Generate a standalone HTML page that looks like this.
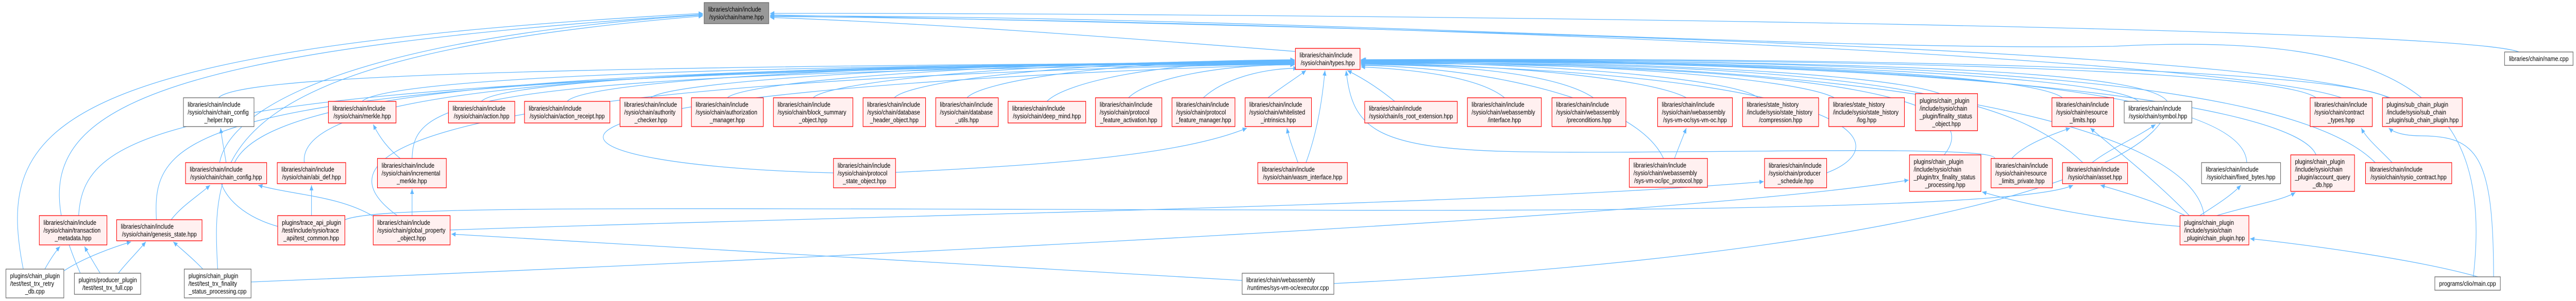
<!DOCTYPE html>
<html><head><meta charset="utf-8">
<style>
html,body{margin:0;padding:0;background:#fff;overflow:hidden;width:100%;height:100%;}
svg{display:block;width:100vw;height:100vh;}
.e{fill:none;stroke:#63b8ff;stroke-width:1.3;}
.r{fill:#fff0f0;stroke:#ff0000;stroke-width:1.3;}
.w{fill:#ffffff;stroke:#666666;stroke-width:1.3;}
.g{fill:#999999;stroke:#666666;stroke-width:1.3;}
text{font-family:"Liberation Sans",Arial,sans-serif;font-size:13px;fill:#000;}
.m{text-anchor:middle;}
</style></head>
<body>
<svg viewBox="0 0 6095 585" preserveAspectRatio="none" xmlns="http://www.w3.org/2000/svg">
<defs>
<marker id="a" markerUnits="userSpaceOnUse" markerWidth="11" markerHeight="9" refX="10" refY="4.5" orient="auto">
<path d="M0,0 L10,4.5 L0,9 z" fill="#63b8ff"/>
</marker>
</defs>
<g marker-end="url(#a)">
<path class="e" d="M517,190 C560,150 1200,128 3063,122"/>
<path class="e" d="M857,197 C900,160 1500,126 3063,123"/>
<path class="e" d="M1139,197 C1180,160 1800,124 3063,121"/>
<path class="e" d="M1342,197 C1380,160 2000,123 3063,120"/>
<path class="e" d="M1540,190 C1580,160 2200,122 3063,119"/>
<path class="e" d="M1721,190 C1760,160 2300,121 3063,118"/>
<path class="e" d="M1924,190 C1960,160 2400,120 3063,117"/>
<path class="e" d="M2116,190 C2150,160 2500,120 3063,116"/>
<path class="e" d="M2288,190 C2320,160 2600,119 3063,117"/>
<path class="e" d="M2477,197 C2520,160 2750,118 3063,120"/>
<path class="e" d="M2670,190 C2720,150 2900,125 3063,126"/>
<path class="e" d="M2847,190 C2900,150 3000,132 3070,133"/>
<path class="e" d="M3000,190 C3030,170 3070,150 3090,137"/>
<path class="e" d="M555,316 C640,170 1400,128 3063,124"/>
<path class="e" d="M720,316 C700,170 1500,126 3063,125"/>
<path class="e" d="M975,308 C980,200 1050,140 3063,125"/>
<path class="e" d="M370,427 C360,250 420,140 3063,122"/>
<path class="e" d="M186,419 C200,250 380,145 3063,121"/>
<path class="e" d="M940,419 C790,330 740,160 3063,124"/>
<path class="e" d="M1972,336 C1200,320 1000,180 3063,125"/>
<path class="e" d="M3090,316 C3120,250 3130,180 3135,137"/>
<path class="e" d="M3071,316 C3060,290 3050,270 3045,249"/>
<path class="e" d="M2119,335 C2500,320 2800,300 2950,249"/>
<path class="e" d="M3300,197 C3260,170 3220,150 3188,137"/>
<path class="e" d="M3560,190 C3500,150 3350,135 3220,130"/>
<path class="e" d="M3770,190 C3700,150 3500,125 3220,126"/>
<path class="e" d="M3990,190 C3900,150 3500,122 3220,124"/>
<path class="e" d="M4160,190 C4100,150 3600,120 3220,122"/>
<path class="e" d="M4340,190 C4250,150 3700,118 3220,121"/>
<path class="e" d="M4590,182 C4450,140 3800,117 3220,120"/>
<path class="e" d="M4880,190 C4800,140 4000,115 3220,119"/>
<path class="e" d="M5060,197 C5000,150 4200,114 3220,118"/>
<path class="e" d="M5480,190 C5400,140 4500,112 3220,117"/>
<path class="e" d="M5650,190 C5550,140 4600,110 3220,116"/>
<path class="e" d="M3936,308 C3870,190 3500,130 3220,127"/>
<path class="e" d="M5620,316 C5420,150 4500,112 3220,118"/>
<path class="e" d="M5480,301 C5430,200 4600,115 3220,119"/>
<path class="e" d="M5316,316 C5310,180 4600,116 3220,120"/>
<path class="e" d="M5215,419 C5190,250 4500,117 3220,121"/>
<path class="e" d="M4928,316 C4780,200 4500,118 3220,122"/>
<path class="e" d="M4720,308 C4720,280 4000,300 3600,295 C3250,290 3200,250 3185,137"/>
<path class="e" d="M4600,301 C4700,200 4400,125 3220,123"/>
<path class="e" d="M4322,336 C4500,280 4400,140 3220,124"/>
<path class="e" d="M3156,551 C4400,500 5120,350 5130,200 C5100,140 4500,118 3222,116"/>
<path class="e" d="M3065,100 C2600,70 2200,45 1822,34"/>
<path class="e" d="M5960,101 C5800,50 3000,25 1822,26"/>
<path class="e" d="M5655,190 C5400,110 4000,65 1822,29"/>
<path class="e" d="M5852,538 C5900,200 5700,60 5000,90 C4300,100 3000,30 1822,31"/>
<path class="e" d="M5540,190 C5300,120 3500,45 1822,32"/>
<path class="e" d="M55,523 C-10,250 100,95 1663,26"/>
<path class="e" d="M190,531 C40,250 150,110 1663,28"/>
<path class="e" d="M657,440 C400,380 380,100 1663,29"/>
<path class="e" d="M515,523 C500,300 500,110 1663,31"/>
<path class="e" d="M535,316 C530,290 525,270 522,249"/>
<path class="e" d="M947,308 C920,290 900,270 883,242"/>
<path class="e" d="M975,419 L975,367"/>
<path class="e" d="M885,421 C800,380 700,380 611,360"/>
<path class="e" d="M405,427 C430,400 470,380 497,360"/>
<path class="e" d="M737,419 L737,360"/>
<path class="e" d="M106,523 C115,510 130,490 142,479"/>
<path class="e" d="M152,526 C200,500 270,480 310,470"/>
<path class="e" d="M237,531 C225,515 210,495 200,479"/>
<path class="e" d="M280,531 C300,510 325,490 345,470"/>
<path class="e" d="M480,523 C460,505 430,485 410,470"/>
<path class="e" d="M2939,545 C2000,500 1400,470 1068,455"/>
<path class="e" d="M1065,447 C2000,420 3500,400 4173,353"/>
<path class="e" d="M816,427 C900,400 1400,405 3000,408 C4000,412 4800,400 4905,360"/>
<path class="e" d="M594,548 C2000,500 4000,420 4516,350"/>
<path class="e" d="M3962,308 C3970,290 3980,270 3990,249"/>
<path class="e" d="M4760,308 C4790,280 4860,260 4898,249"/>
<path class="e" d="M4950,316 C4990,290 5050,270 5100,242"/>
<path class="e" d="M5170,419 C5100,390 5010,370 4970,360"/>
<path class="e" d="M5180,419 C5100,350 4990,280 4946,249"/>
<path class="e" d="M5205,419 C5240,400 5280,380 5302,360"/>
<path class="e" d="M5245,419 C5320,400 5400,390 5431,374"/>
<path class="e" d="M5158,440 C5000,430 4800,400 4690,373"/>
<path class="e" d="M5660,316 C5630,290 5600,270 5587,249"/>
<path class="e" d="M5863,538 C5700,500 5400,470 5324,464"/>
<path class="e" d="M5900,538 C5900,300 5860,265 5730,264 C5690,264 5665,258 5652,249"/>
</g>

<rect class="g" x="1666" y="5" width="153" height="41"/>
<text x="1676" y="22.5">libraries/chain/include</text><text class="m" x="1742.5" y="37.5">/sysio/chain/name.hpp</text>

<rect class="r" x="3065" y="94" width="153" height="41"/>
<text x="3075" y="111.5">libraries/chain/include</text><text class="m" x="3141.5" y="126.5">/sysio/chain/types.hpp</text>

<rect class="w" x="434" y="190" width="167" height="56"/>
<text x="444" y="207.5">libraries/chain/include</text><text x="444" y="222.5">/sysio/chain/chain_config</text><text class="m" x="517.5" y="237.5">_helper.hpp</text>

<rect class="r" x="777" y="197" width="160" height="42"/>
<text x="787" y="215">libraries/chain/include</text><text class="m" x="857" y="230">/sysio/chain/merkle.hpp</text>

<rect class="r" x="1061" y="197" width="157" height="42"/>
<text x="1071" y="215">libraries/chain/include</text><text class="m" x="1139.5" y="230">/sysio/chain/action.hpp</text>

<rect class="r" x="1241" y="197" width="202" height="42"/>
<text x="1251" y="215">libraries/chain/include</text><text class="m" x="1342" y="230">/sysio/chain/action_receipt.hpp</text>

<rect class="r" x="1467" y="190" width="146" height="56"/>
<text x="1477" y="207.5">libraries/chain/include</text><text x="1477" y="222.5">/sysio/chain/authority</text><text class="m" x="1540" y="237.5">_checker.hpp</text>

<rect class="r" x="1636" y="190" width="170" height="56"/>
<text x="1646" y="207.5">libraries/chain/include</text><text x="1646" y="222.5">/sysio/chain/authorization</text><text class="m" x="1721" y="237.5">_manager.hpp</text>

<rect class="r" x="1830" y="190" width="188" height="56"/>
<text x="1840" y="207.5">libraries/chain/include</text><text x="1840" y="222.5">/sysio/chain/block_summary</text><text class="m" x="1924" y="237.5">_object.hpp</text>

<rect class="r" x="2042" y="190" width="148" height="56"/>
<text x="2052" y="207.5">libraries/chain/include</text><text x="2052" y="222.5">/sysio/chain/database</text><text class="m" x="2116" y="237.5">_header_object.hpp</text>

<rect class="r" x="2214" y="190" width="148" height="56"/>
<text x="2224" y="207.5">libraries/chain/include</text><text x="2224" y="222.5">/sysio/chain/database</text><text class="m" x="2288" y="237.5">_utils.hpp</text>

<rect class="r" x="2385" y="197" width="184" height="42"/>
<text x="2395" y="215">libraries/chain/include</text><text class="m" x="2477" y="230">/sysio/chain/deep_mind.hpp</text>

<rect class="r" x="2592" y="190" width="157" height="56"/>
<text x="2602" y="207.5">libraries/chain/include</text><text x="2602" y="222.5">/sysio/chain/protocol</text><text class="m" x="2670.5" y="237.5">_feature_activation.hpp</text>

<rect class="r" x="2773" y="190" width="149" height="56"/>
<text x="2783" y="207.5">libraries/chain/include</text><text x="2783" y="222.5">/sysio/chain/protocol</text><text class="m" x="2847.5" y="237.5">_feature_manager.hpp</text>

<rect class="r" x="2946" y="190" width="157" height="56"/>
<text x="2956" y="207.5">libraries/chain/include</text><text x="2956" y="222.5">/sysio/chain/whitelisted</text><text class="m" x="3024.5" y="237.5">_intrinsics.hpp</text>

<rect class="r" x="3229" y="197" width="219" height="42"/>
<text x="3239" y="215">libraries/chain/include</text><text class="m" x="3338.5" y="230">/sysio/chain/is_root_extension.hpp</text>

<rect class="r" x="3472" y="190" width="175" height="56"/>
<text x="3482" y="207.5">libraries/chain/include</text><text x="3482" y="222.5">/sysio/chain/webassembly</text><text class="m" x="3559.5" y="237.5">/interface.hpp</text>

<rect class="r" x="3672" y="190" width="175" height="56"/>
<text x="3682" y="207.5">libraries/chain/include</text><text x="3682" y="222.5">/sysio/chain/webassembly</text><text class="m" x="3759.5" y="237.5">/preconditions.hpp</text>

<rect class="r" x="3922" y="190" width="177" height="56"/>
<text x="3932" y="207.5">libraries/chain/include</text><text x="3932" y="222.5">/sysio/chain/webassembly</text><text class="m" x="4010.5" y="237.5">/sys-vm-oc/sys-vm-oc.hpp</text>

<rect class="r" x="4123" y="190" width="180" height="56"/>
<text x="4133" y="207.5">libraries/state_history</text><text x="4133" y="222.5">/include/sysio/state_history</text><text class="m" x="4213" y="237.5">/compression.hpp</text>

<rect class="r" x="4327" y="190" width="179" height="56"/>
<text x="4337" y="207.5">libraries/state_history</text><text x="4337" y="222.5">/include/sysio/state_history</text><text class="m" x="4416.5" y="237.5">/log.hpp</text>

<rect class="r" x="4532" y="182" width="147" height="72"/>
<text x="4542" y="200">plugins/chain_plugin</text><text x="4542" y="215">/include/sysio/chain</text><text x="4542" y="230">_plugin/finality_status</text><text class="m" x="4605.5" y="245">_object.hpp</text>

<rect class="r" x="4855" y="190" width="146" height="56"/>
<text x="4865" y="207.5">libraries/chain/include</text><text x="4865" y="222.5">/sysio/chain/resource</text><text class="m" x="4928" y="237.5">_limits.hpp</text>

<rect class="w" x="5026" y="197" width="160" height="42"/>
<text x="5036" y="215">libraries/chain/include</text><text class="m" x="5106" y="230">/sysio/chain/symbol.hpp</text>

<rect class="r" x="5466" y="190" width="147" height="56"/>
<text x="5476" y="207.5">libraries/chain/include</text><text x="5476" y="222.5">/sysio/chain/contract</text><text class="m" x="5539.5" y="237.5">_types.hpp</text>

<rect class="r" x="5637" y="190" width="189" height="56"/>
<text x="5647" y="207.5">plugins/sub_chain_plugin</text><text x="5647" y="222.5">/include/sysio/sub_chain</text><text class="m" x="5731.5" y="237.5">_plugin/sub_chain_plugin.hpp</text>

<rect class="w" x="5926" y="101" width="162" height="26"/>
<text class="m" x="6007" y="118.5">libraries/chain/name.cpp</text>

<rect class="r" x="439" y="316" width="192" height="41"/>
<text x="449" y="333.5">libraries/chain/include</text><text class="m" x="535" y="348.5">/sysio/chain/chain_config.hpp</text>

<rect class="r" x="656" y="316" width="162" height="41"/>
<text x="666" y="333.5">libraries/chain/include</text><text class="m" x="737" y="348.5">/sysio/chain/abi_def.hpp</text>

<rect class="r" x="893" y="308" width="163" height="57"/>
<text x="903" y="326">libraries/chain/include</text><text x="903" y="341">/sysio/chain/incremental</text><text class="m" x="974.5" y="356">_merkle.hpp</text>

<rect class="r" x="1972" y="308" width="147" height="57"/>
<text x="1982" y="326">libraries/chain/include</text><text x="1982" y="341">/sysio/chain/protocol</text><text class="m" x="2045.5" y="356">_state_object.hpp</text>

<rect class="r" x="2976" y="316" width="212" height="41"/>
<text x="2986" y="333.5">libraries/chain/include</text><text class="m" x="3082" y="348.5">/sysio/chain/wasm_interface.hpp</text>

<rect class="r" x="3855" y="308" width="185" height="56"/>
<text x="3865" y="325.5">libraries/chain/include</text><text x="3865" y="340.5">/sysio/chain/webassembly</text><text class="m" x="3947.5" y="355.5">/sys-vm-oc/ipc_protocol.hpp</text>

<rect class="r" x="4175" y="308" width="147" height="57"/>
<text x="4185" y="326">libraries/chain/include</text><text x="4185" y="341">/sysio/chain/producer</text><text class="m" x="4248.5" y="356">_schedule.hpp</text>

<rect class="r" x="4518" y="301" width="169" height="71"/>
<text x="4528" y="318.5">plugins/chain_plugin</text><text x="4528" y="333.5">/include/sysio/chain</text><text x="4528" y="348.5">_plugin/trx_finality_status</text><text class="m" x="4602.5" y="363.5">_processing.hpp</text>

<rect class="r" x="4711" y="308" width="145" height="57"/>
<text x="4721" y="326">libraries/chain/include</text><text x="4721" y="341">/sysio/chain/resource</text><text class="m" x="4783.5" y="356">_limits_private.hpp</text>

<rect class="r" x="4880" y="316" width="154" height="41"/>
<text x="4890" y="333.5">libraries/chain/include</text><text class="m" x="4957" y="348.5">/sysio/chain/asset.hpp</text>

<rect class="w" x="5209" y="316" width="187" height="41"/>
<text x="5219" y="333.5">libraries/chain/include</text><text class="m" x="5302.5" y="348.5">/sysio/chain/fixed_bytes.hpp</text>

<rect class="r" x="5420" y="301" width="151" height="71"/>
<text x="5430" y="318.5">plugins/chain_plugin</text><text x="5430" y="333.5">/include/sysio/chain</text><text x="5430" y="348.5">_plugin/account_query</text><text class="m" x="5495.5" y="363.5">_db.hpp</text>

<rect class="r" x="5597" y="316" width="204" height="41"/>
<text x="5607" y="333.5">libraries/chain/include</text><text class="m" x="5699" y="348.5">/sysio/chain/sysio_contract.hpp</text>

<rect class="r" x="93" y="419" width="160" height="57"/>
<text x="103" y="437">libraries/chain/include</text><text x="103" y="452">/sysio/chain/transaction</text><text class="m" x="173" y="467">_metadata.hpp</text>

<rect class="r" x="276" y="427" width="202" height="41"/>
<text x="286" y="444.5">libraries/chain/include</text><text class="m" x="377" y="459.5">/sysio/chain/genesis_state.hpp</text>

<rect class="r" x="657" y="419" width="159" height="57"/>
<text x="667" y="437">plugins/trace_api_plugin</text><text x="667" y="452">/test/include/sysio/trace</text><text class="m" x="736.5" y="467">_api/test_common.hpp</text>

<rect class="r" x="883" y="419" width="182" height="57"/>
<text x="893" y="437">libraries/chain/include</text><text x="893" y="452">/sysio/chain/global_property</text><text class="m" x="974" y="467">_object.hpp</text>

<rect class="r" x="5158" y="419" width="163" height="57"/>
<text x="5168" y="437">plugins/chain_plugin</text><text x="5168" y="452">/include/sysio/chain</text><text class="m" x="5239.5" y="467">_plugin/chain_plugin.hpp</text>

<rect class="w" x="14" y="523" width="137" height="56"/>
<text x="24" y="540.5">plugins/chain_plugin</text><text x="24" y="555.5">/test/test_trx_retry</text><text class="m" x="82.5" y="570.5">_db.cpp</text>

<rect class="w" x="176" y="531" width="157" height="41"/>
<text x="186" y="548.5">plugins/producer_plugin</text><text class="m" x="254.5" y="563.5">/test/test_trx_full.cpp</text>

<rect class="w" x="436" y="523" width="158" height="56"/>
<text x="446" y="540.5">plugins/chain_plugin</text><text x="446" y="555.5">/test/test_trx_finality</text><text class="m" x="515" y="570.5">_status_processing.cpp</text>

<rect class="w" x="2939" y="531" width="217" height="41"/>
<text x="2949" y="548.5">libraries/chain/webassembly</text><text class="m" x="3047.5" y="563.5">/runtimes/sys-vm-oc/executor.cpp</text>

<rect class="w" x="5761" y="538" width="155" height="26"/>
<text class="m" x="5838.5" y="555.5">programs/clio/main.cpp</text>
</svg>
</body></html>
